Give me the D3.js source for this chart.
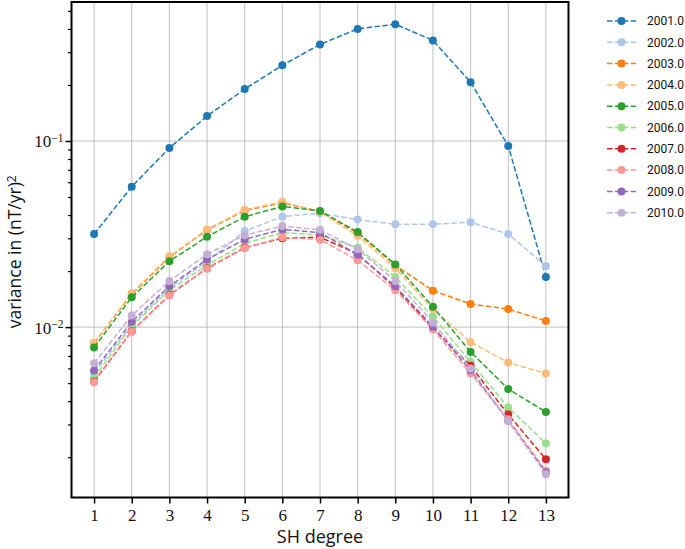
<!DOCTYPE html>
<html>
<head>
<meta charset="utf-8">
<script src="https://cdn.jsdelivr.net/npm/d3@7"></script>
<style>
html,body{margin:0;padding:0;background:#fff;}
svg{display:block;}
</style>
</head>
<body>
<svg id="chart" width="685" height="549"></svg>
<script>
const degrees = [1,2,3,4,5,6,7,8,9,10,11,12,13];
const seriesNames = ["2001.0","2002.0","2003.0","2004.0","2005.0","2006.0","2007.0","2008.0","2009.0","2010.0"];
const colors = ["#1f77b4","#aec7e8","#ff7f0e","#ffbb78","#2ca02c","#98df8a","#d62728","#ff9896","#9467bd","#c5b0d5"];
const v2001 = [0.0316,0.0568,0.0917,0.136,0.190,0.255,0.330,0.400,0.424,0.347,0.207,0.094,0.0186];
const v2002 = [0.00566,0.0103,0.0162,0.0225,0.0328,0.0392,0.0409,0.0378,0.0357,0.0357,0.0366,0.0316,0.0213];
const v2003 = [0.0082,0.0150,0.0238,0.0332,0.0423,0.0465,0.0418,0.0320,0.0215,0.0157,0.0133,0.0125,0.0108];
const v2004 = [0.00823,0.0152,0.0240,0.0335,0.0427,0.0471,0.0415,0.0310,0.0207,0.0125,0.0083,0.00645,0.00564];
const v2005 = [0.00778,0.01445,0.0226,0.0306,0.0392,0.0445,0.0421,0.0324,0.0217,0.01285,0.00736,0.00465,0.00350];
const v2006 = [0.00535,0.0101,0.0158,0.0215,0.0282,0.0322,0.0312,0.0267,0.0186,0.01136,0.0065,0.00370,0.00237];
const v2007 = [0.00510,0.0095,0.0149,0.0207,0.0267,0.0300,0.0304,0.0247,0.0163,0.0099,0.0062,0.00339,0.00195];
const v2008 = [0.00505,0.00944,0.0148,0.0206,0.0265,0.0304,0.0295,0.0229,0.0158,0.0097,0.00564,0.0032,0.00169];
const v2009 = [0.00585,0.01068,0.0166,0.0231,0.0296,0.0335,0.0322,0.0245,0.0166,0.01004,0.00587,0.00313,0.00166];
const v2010 = [0.0064,0.01156,0.0177,0.0246,0.0312,0.0349,0.0333,0.0262,0.0177,0.0106,0.0060,0.00313,0.00162];
const allValues = [v2001,v2002,v2003,v2004,v2005,v2006,v2007,v2008,v2009,v2010];
const yTickVals = [0.01, 0.1];
const yTickExps = ["−2","−1"];

const svg = d3.select("#chart");
const L = 71.5, R = 568.5, T = 2, B = 497.5;
const x = d3.scaleLinear().domain([0.4, 13.6]).range([L, R]);
const y = d3.scaleLog().domain([0.001215, 0.558]).range([B, T]);

// grid
const grid = svg.append("g");
degrees.forEach(d => {
  grid.append("line").attr("x1", x(d)).attr("x2", x(d)).attr("y1", T).attr("y2", B)
    .attr("stroke", "#b0b0b0").attr("stroke-width", 0.8);
});
yTickVals.forEach(v => {
  grid.append("line").attr("x1", L).attr("x2", R).attr("y1", y(v)).attr("y2", y(v))
    .attr("stroke", "#b0b0b0").attr("stroke-width", 0.8);
});

// series
const line = d3.line().x((d,i) => x(degrees[i])).y(d => y(d));
const plot = svg.append("g");
allValues.forEach((vals, k) => {
  plot.append("path").attr("d", line(vals)).attr("fill", "none")
    .attr("stroke", colors[k]).attr("stroke-width", 1.5).attr("stroke-dasharray", "5.5,2.4");
  plot.selectAll(null).data(vals).enter().append("circle")
    .attr("cx", (d,i) => x(degrees[i])).attr("cy", d => y(d)).attr("r", 4)
    .attr("fill", colors[k]);
});

// axes
const xAxis = d3.axisBottom(x).tickValues(degrees).tickSize(6).tickFormat(d3.format("d"));
const gx = svg.append("g").attr("transform", `translate(0,${B})`).call(xAxis);
gx.select(".domain").remove();
gx.selectAll(".tick line").attr("stroke", "#000").attr("stroke-width", 1.5);
gx.selectAll(".tick text").attr("font-family", "'Liberation Serif', serif").attr("font-size", 17).attr("fill", "#111").attr("dy", "0.85em");

const minorVals = [];
[0.001, 0.01, 0.1].forEach(dec => { for (let m = 2; m <= 9; m++) { const v = dec*m; if (v > 0.001215 && v < 0.558) minorVals.push(v); } });
const yMinor = d3.axisLeft(y).tickValues(minorVals).tickSize(3.5).tickFormat("");
const gym = svg.append("g").attr("transform", `translate(${L},0)`).call(yMinor);
gym.select(".domain").remove();
gym.selectAll(".tick line").attr("stroke", "#000").attr("stroke-width", 1.2);

const yAxis = d3.axisLeft(y).tickValues(yTickVals).tickSize(6).tickFormat("");
const gy = svg.append("g").attr("transform", `translate(${L},0)`).call(yAxis);
gy.select(".domain").remove();
gy.selectAll(".tick line").attr("stroke", "#000").attr("stroke-width", 1.5);
gy.selectAll(".tick").each(function(d, i) {
  const t = d3.select(this).append("text").attr("x", -8).attr("dy", "0.35em")
    .attr("text-anchor", "end").attr("font-family", "'Liberation Serif', serif").attr("font-size", 17).attr("fill", "#111");
  t.append("tspan").text("10");
  t.append("tspan").attr("dy", "-0.45em").attr("font-size", 11.5).text(yTickExps[i]);
});

// frame
svg.append("rect").attr("x", L).attr("y", T).attr("width", R - L).attr("height", B - T)
  .attr("fill", "none").attr("stroke", "#000").attr("stroke-width", 2);

// labels
svg.append("text").attr("x", (L + R) / 2).attr("y", 543).attr("text-anchor", "middle")
  .attr("font-family", "'Open Sans', sans-serif").attr("font-size", 18).attr("fill", "#111").text("SH degree");
const yl = svg.append("text").attr("transform", `translate(21,${(T + B) / 2 + 2}) rotate(-90)`).attr("text-anchor", "middle")
  .attr("font-family", "'Open Sans', sans-serif").attr("font-size", 17.5).attr("fill", "#111");
yl.append("tspan").text("variance in (nT/yr)");
yl.append("tspan").attr("dy", "-0.45em").attr("font-size", 12).text("2");

// legend
const lg = svg.append("g");
seriesNames.forEach((name, k) => {
  const yy = 21 + k * 21.3;
  lg.append("line").attr("x1", 607).attr("x2", 636).attr("y1", yy).attr("y2", yy)
    .attr("stroke", colors[k]).attr("stroke-width", 1.5).attr("stroke-dasharray", "5.5,2.4");
  lg.append("circle").attr("cx", 621.5).attr("cy", yy).attr("r", 4).attr("fill", colors[k]);
  lg.append("text").attr("x", 647).attr("y", yy).attr("dy", "0.35em")
    .attr("font-family", "Roboto, sans-serif").attr("font-size", 12).attr("fill", "#111").text(name);
});
</script>
</body>
</html>
